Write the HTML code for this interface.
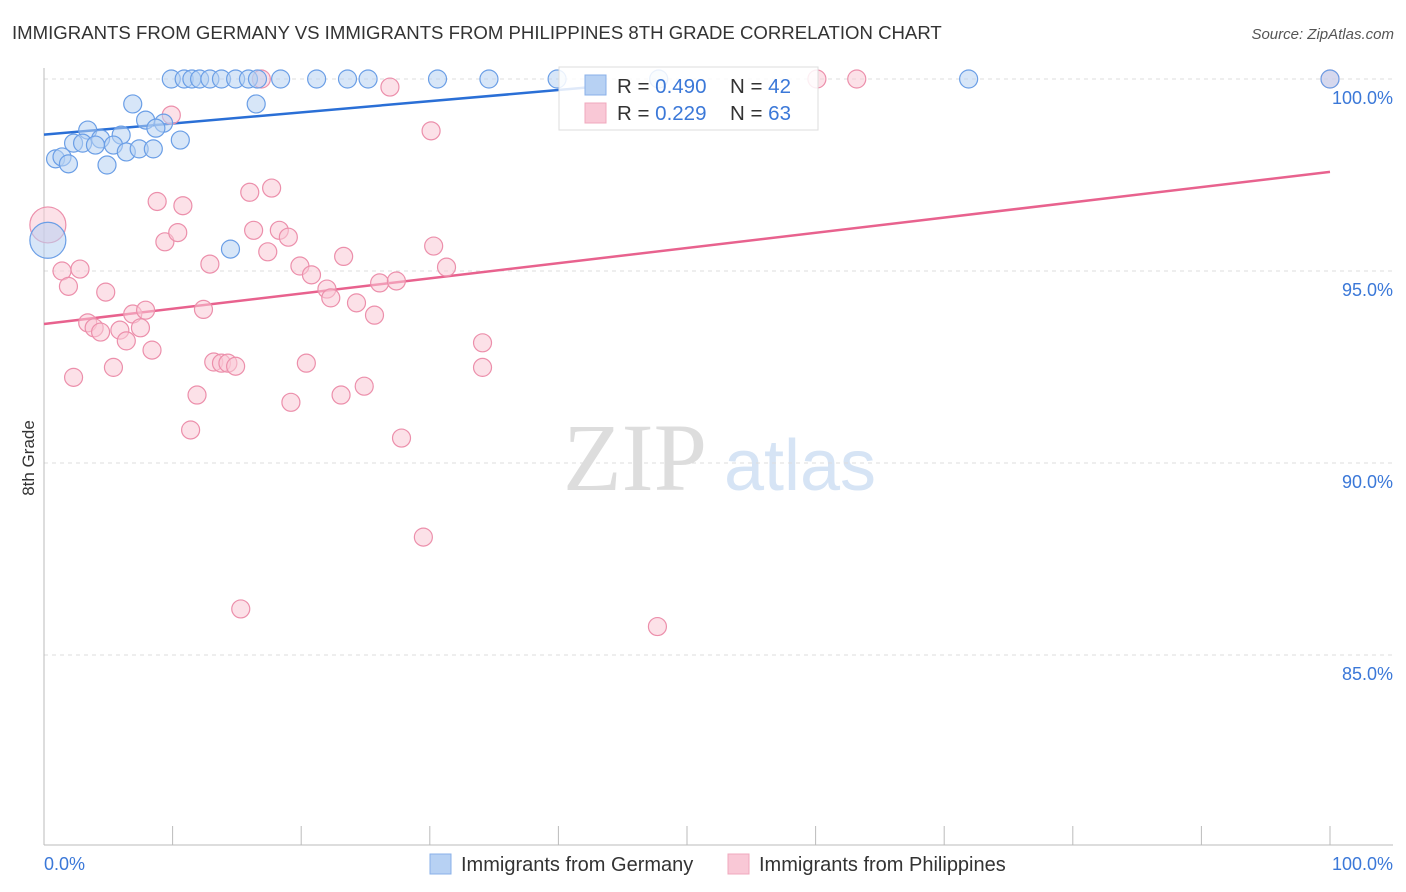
<!DOCTYPE html>
<html><head><meta charset="utf-8"><style>
body{margin:0;background:#fff;font-family:"Liberation Sans",Arial,sans-serif;}
#wrap{position:relative;width:1406px;height:892px;overflow:hidden;}
</style></head><body><div id="wrap">
<svg id="svg" width="1406" height="892" xmlns="http://www.w3.org/2000/svg">
<text x="12" y="39" font-size="18.6" fill="#333">IMMIGRANTS FROM GERMANY VS IMMIGRANTS FROM PHILIPPINES 8TH GRADE CORRELATION CHART</text>
<text x="1394" y="39" font-size="15" fill="#555" font-style="italic" text-anchor="end">Source: ZipAtlas.com</text>
<text x="34" y="458" font-size="17" fill="#333" transform="rotate(-90 34 458)" text-anchor="middle">8th Grade</text>
<g><text x="635" y="490" font-size="96" fill="#ddd" font-family="Liberation Serif,serif" text-anchor="middle">ZIP</text><text x="800" y="490" font-size="72" fill="#d6e4f5" text-anchor="middle">atlas</text></g>
<g id="grid"></g><g id="axes"></g><g id="lines"></g><g id="pts"></g>
<g>
<rect x="559" y="67" width="259" height="63" fill="#fff" fill-opacity="0.85" stroke="#ddd"/>
<rect x="585" y="75" width="21" height="20" fill="#b7d1f3" stroke="#8ab0e8"/>
<rect x="585" y="103" width="21" height="20" fill="#f9c8d6" stroke="#f0a8bd"/>
<text x="617" y="93" font-size="20.5" fill="#333">R = <tspan fill="#3b78d8">0.490</tspan></text>
<text x="730" y="93" font-size="20.5" fill="#333">N = <tspan fill="#3b78d8">42</tspan></text>
<text x="617" y="120" font-size="20.5" fill="#333">R =  <tspan fill="#3b78d8">0.229</tspan></text>
<text x="730" y="120" font-size="20.5" fill="#333">N = <tspan fill="#3b78d8">63</tspan></text>
</g>
<g>
<rect x="430" y="854" width="21" height="20" fill="#b7d1f3" stroke="#8ab0e8"/>
<text x="461" y="871" font-size="20" fill="#333">Immigrants from Germany</text>
<rect x="728" y="854" width="21" height="20" fill="#f9c8d6" stroke="#f0a8bd"/>
<text x="759" y="871" font-size="20" fill="#333">Immigrants from Philippines</text>
</g>
</svg></div>
<script>
const yTicks=[100,95,90,85];
const xTickLabels=["0.0%","100.0%"];
const germanyX=[9.9,10.9,11.5,12.1,12.9,13.8,14.9,15.9,16.6,18.4,21.2,23.6,25.2,30.6,34.6,39.9,47.8,71.9,100,6.9,16.5,7.9,9.3,3.4,6.0,8.7,10.6,4.4,2.3,3.0,4.0,5.4,6.4,7.4,8.5,0.9,1.4,1.9,4.9,14.5,0.3];
const germanyY=[100,100,100,100,100,100,100,100,100,100,100,100,100,100,100,100,100,100,100,99.35,99.35,98.93,98.85,98.67,98.54,98.72,98.41,98.44,98.33,98.33,98.28,98.28,98.1,98.18,98.18,97.92,97.97,97.79,97.76,95.57,95.8];
const philX=[0.3,1.4,1.9,2.8,2.3,3.4,3.9,4.4,4.8,5.4,5.9,6.4,6.9,7.5,7.9,8.4,8.8,9.4,9.9,10.4,10.8,11.4,11.9,12.4,12.9,13.2,13.8,14.3,14.9,15.3,16.0,16.3,16.9,17.4,17.7,18.3,19.0,19.2,19.9,20.4,20.8,22.0,22.3,23.1,23.3,24.3,24.9,25.7,26.1,26.9,27.4,27.8,29.5,30.1,30.3,31.3,34.1,34.1,47.7,60.1,63.2,100];
const philY=[96.2,95.0,94.6,95.05,92.23,93.65,93.52,93.41,94.45,92.49,93.46,93.18,93.88,93.52,93.98,92.94,96.81,95.76,99.06,96.0,96.7,90.86,91.77,94.0,95.18,92.63,92.6,92.6,92.52,86.2,97.05,96.06,100,95.5,97.16,96.06,95.88,91.58,95.13,92.6,94.9,94.53,94.3,91.77,95.38,94.17,92.0,93.85,94.69,99.79,94.74,90.65,88.07,98.65,95.65,95.1,93.13,92.49,85.74,100,100,100];
const svg=document.getElementById('svg'),NS='http://www.w3.org/2000/svg';
const X=v=>44+v/100*1286, Y=v=>79+(100-v)*38.4;
function mk(t,a,p){const e=document.createElementNS(NS,t);for(const k in a)e.setAttribute(k,a[k]);p.appendChild(e);return e;}
const grid=document.getElementById('grid'),axes=document.getElementById('axes');
yTicks.forEach(t=>{
 const l=mk('line',{x1:44,x2:1393,y1:Y(t),y2:Y(t),stroke:'#ddd','stroke-dasharray':'4 4'},grid);
 
 
 const tx=mk('text',{x:1393,y:Y(t)+25,'font-size':18,fill:'#3b78d8','text-anchor':'end'},axes);
 tx.textContent=t.toFixed(1)+'%';
 
 
});
mk('line',{x1:44,x2:44,y1:68,y2:845,stroke:'#bbb'},axes);
mk('line',{x1:44,x2:1393,y1:845,y2:845,stroke:'#bbb'},axes);
for(let i=0;i<=10;i++){mk('line',{x1:X(i*10),x2:X(i*10),y1:826,y2:845,stroke:'#bbb'},axes);}
[[0,'start',44],[1,'end',1393]].forEach(([i,a,x])=>{const t=mk('text',{x:x,y:870,'font-size':18,fill:'#3b78d8','text-anchor':a},axes);t.textContent=xTickLabels[i];
 
 });
const lines=document.getElementById('lines');
const bl=mk('line',{x1:X(0),y1:Y(98.55),x2:X(43),y2:Y(99.8),stroke:'#2a6fd6','stroke-width':2.5},lines);


const pl=mk('line',{x1:X(0),y1:Y(93.62),x2:X(100),y2:Y(97.58),stroke:'#e8628e','stroke-width':2.5},lines);


const pts=document.getElementById('pts');
function dots(xs,ys,fill,stroke,name){xs.forEach((x,i)=>{const big=x<0.5;
 const c=mk('circle',{cx:X(x),cy:Y(ys[i]),r:big?18:9,fill:fill,'fill-opacity':0.55,stroke:stroke,'stroke-width':1.2},pts);
 
 });}
dots(philX,philY,'#f9c8d6','#ec8fab','philippines-point');
dots(germanyX,germanyY,'#b7d1f3','#6a9ee6','germany-point');
</script></body></html>
